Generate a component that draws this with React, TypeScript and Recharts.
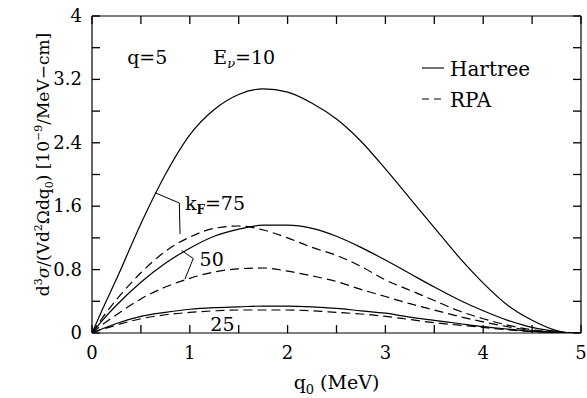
import React from 'react';
import { ComposedChart, Line, XAxis, YAxis, Scatter, ReferenceDot, ReferenceLine, Legend } from 'recharts';

const FONT = '"DejaVu Serif", "Liberation Serif", serif';

// energy transfer q0 (MeV)
const q0 = [0, 0.1, 0.25, 0.5, 0.75, 1.0, 1.25, 1.5, 1.75, 2.0, 2.25, 2.5, 2.75, 3.0, 3.25, 3.5, 3.75, 4.0, 4.25, 4.5, 4.75, 4.9, 5.0];

// Hartree (solid)
const hartree75 = [0, 0.28, 0.68, 1.38, 2.0, 2.5, 2.82, 3.01, 3.08, 3.04, 2.9, 2.7, 2.42, 2.07, 1.7, 1.33, 0.96, 0.63, 0.35, 0.16, 0.03, 0, 0];
const hartree50 = [0, 0.15, 0.35, 0.64, 0.88, 1.07, 1.22, 1.31, 1.36, 1.36, 1.32, 1.22, 1.08, 0.92, 0.75, 0.58, 0.42, 0.28, 0.16, 0.07, 0.02, 0, 0];
const hartree25 = [0, 0.05, 0.12, 0.21, 0.26, 0.3, 0.32, 0.33, 0.34, 0.34, 0.33, 0.31, 0.28, 0.25, 0.2, 0.16, 0.12, 0.08, 0.05, 0.02, 0.005, 0, 0];

// RPA (dashed)
const rpa75 = [0, 0.18, 0.42, 0.76, 1.03, 1.21, 1.32, 1.35, 1.3, 1.2, 1.08, 0.98, 0.84, 0.67, 0.54, 0.41, 0.28, 0.18, 0.1, 0.04, 0.01, 0, 0];
const rpa50 = [0, 0.1, 0.23, 0.43, 0.58, 0.69, 0.77, 0.81, 0.82, 0.78, 0.72, 0.65, 0.55, 0.46, 0.37, 0.29, 0.21, 0.14, 0.08, 0.03, 0.01, 0, 0];
const rpa25 = [0, 0.045, 0.1, 0.18, 0.23, 0.26, 0.28, 0.29, 0.29, 0.29, 0.28, 0.26, 0.24, 0.21, 0.17, 0.13, 0.1, 0.07, 0.04, 0.02, 0.005, 0, 0];

// ticks
const xTicks = [0, 0.5, 1, 1.5, 2, 2.5, 3, 3.5, 4, 4.5, 5];
const xTickLabels = ['0', '', '1', '', '2', '', '3', '', '4', '', '5'];
const yTicks = [0, 0.4, 0.8, 1.2, 1.6, 2.0, 2.4, 2.8, 3.2, 3.6, 4.0];
const yTickLabels = ['0', '', '0.8', '', '1.6', '', '2.4', '', '3.2', '', '4'];
const X_MIN = 0;
const X_MAX = 5;
const Y_MIN = 0;
const Y_MAX = 4;
// inward tick lengths in data units (≈8 px)
const X_TICK_LEN = 0.1; // vertical extent of x ticks (y units)
const Y_TICK_LEN = 0.082; // horizontal extent of y ticks (x units)

// annotation leader lines (data coordinates)
const leader75 = [
  { q0: 0.644, v: 1.77 },
  { q0: 0.893, v: 1.64 },
  { q0: 0.9, v: 1.25 },
];
const leader50 = [
  { q0: 0.917, v: 1.04 },
  { q0: 1.035, v: 0.94 },
  { q0: 0.95, v: 0.68 },
];

const legendNames = ['Hartree', 'RPA'];

const data = q0.map((x, i) => ({
  q0: x,
  h75: hartree75[i],
  h50: hartree50[i],
  h25: hartree25[i],
  r75: rpa75[i],
  r50: rpa50[i],
  r25: rpa25[i],
}));

const series = [
  { key: 'h75', dash: undefined },
  { key: 'h50', dash: undefined },
  { key: 'h25', dash: undefined },
  { key: 'r75', dash: '9 5' },
  { key: 'r50', dash: '9 5' },
  { key: 'r25', dash: '9 5' },
];

const tickSegments = [
  ...xTicks.map((t) => [{ x: t, y: Y_MIN }, { x: t, y: Y_MIN + X_TICK_LEN }]),
  ...xTicks.map((t) => [{ x: t, y: Y_MAX }, { x: t, y: Y_MAX - X_TICK_LEN }]),
  ...yTicks.map((t) => [{ x: X_MIN, y: t }, { x: X_MIN + Y_TICK_LEN, y: t }]),
  ...yTicks.map((t) => [{ x: X_MAX, y: t }, { x: X_MAX - Y_TICK_LEN, y: t }]),
];

const BottomTick = (props: any) => {
  const { x, y, index } = props;
  const label = xTickLabels[index] ?? '';
  return (
    <text x={x} y={y + 26} textAnchor="middle" fontFamily={FONT} fontSize={18} fill="#000">
      {label}
    </text>
  );
};

const LeftTick = (props: any) => {
  const { x, y, index } = props;
  const label = yTickLabels[index] ?? '';
  return (
    <text x={x - 10} y={y + 6} textAnchor="end" fontFamily={FONT} fontSize={18} fill="#000">
      {label}
    </text>
  );
};

const RichText = (props: any) => {
  const { viewBox, size, children } = props;
  if (!viewBox) return null;
  return (
    <text x={viewBox.x} y={viewBox.y} fontFamily={FONT} fontSize={size} fill="#000">
      {children}
    </text>
  );
};

const XLabel = (props: any) => {
  const { viewBox } = props;
  if (!viewBox) return null;
  return (
    <text
      x={viewBox.x + viewBox.width / 2}
      y={viewBox.y + 56}
      textAnchor="middle"
      fontFamily={FONT}
      fontSize={19}
      fill="#000"
    >
      q<tspan dy={5} fontSize={13}>0</tspan>
      <tspan dy={-5}> (MeV)</tspan>
    </text>
  );
};

const YLabel = (props: any) => {
  const { viewBox } = props;
  if (!viewBox) return null;
  const cx = viewBox.x + 49;
  const cy = viewBox.y + viewBox.height / 2 - 10;
  return (
    <text
      x={cx}
      y={cy}
      textAnchor="middle"
      transform={`rotate(-90, ${cx}, ${cy})`}
      fontFamily={FONT}
      fontSize={17}
      fill="#000"
    >
      d<tspan dy={-7} fontSize={11}>3</tspan>
      <tspan dy={7} fontStyle="italic">σ</tspan>/(Vd<tspan dy={-7} fontSize={11}>2</tspan>
      <tspan dy={7}>Ωdq</tspan>
      <tspan dy={4} fontSize={11}>0</tspan>
      <tspan dy={-4}>) [10</tspan>
      <tspan dy={-7} fontSize={11}>−9</tspan>
      <tspan dy={7}>/MeV−cm]</tspan>
    </text>
  );
};

const LegendBox = () => (
  <svg width={130} height={56} style={{ display: 'block', overflow: 'visible' }}>
    {legendNames.map((n, i) => (
      <g key={n}>
        <line
          x1={2}
          x2={24}
          y1={10 + 31 * i}
          y2={10 + 31 * i}
          stroke="#000"
          strokeWidth={1.1}
          strokeDasharray={i ? '7 5' : undefined}
        />
        <text x={30} y={17.5 + 31 * i} fontSize={20} fontFamily={FONT} fill="#000">
          {n}
        </text>
      </g>
    ))}
  </svg>
);

export default function App() {
  return (
    <div style={{ position: 'absolute', left: 0, top: 0, background: '#fff' }}>
      <ComposedChart
        width={587}
        height={398}
        data={data}
        margin={{ top: 15, right: 5, left: 0, bottom: 0 }}
      >
        <XAxis
          dataKey="q0"
          type="number"
          domain={[X_MIN, X_MAX]}
          ticks={xTicks}
          interval={0}
          allowDataOverflow
          height={65}
          tickSize={0}
          tickMargin={0}
          tick={<BottomTick />}
          tickLine={false}
          axisLine={{ stroke: '#000', strokeWidth: 1.2 }}
          label={<XLabel />}
        />
        <XAxis
          xAxisId="top"
          orientation="top"
          dataKey="q0"
          type="number"
          domain={[X_MIN, X_MAX]}
          ticks={xTicks}
          interval={0}
          allowDataOverflow
          height={1}
          tick={false}
          tickLine={false}
          axisLine={{ stroke: '#000', strokeWidth: 1.2 }}
        />
        <YAxis
          type="number"
          domain={[Y_MIN, Y_MAX]}
          ticks={yTicks}
          interval={0}
          allowDataOverflow
          width={92}
          tickSize={0}
          tickMargin={0}
          tick={<LeftTick />}
          tickLine={false}
          axisLine={{ stroke: '#000', strokeWidth: 1.2 }}
          label={<YLabel />}
        />
        <YAxis
          yAxisId="right"
          orientation="right"
          type="number"
          domain={[Y_MIN, Y_MAX]}
          ticks={yTicks}
          interval={0}
          allowDataOverflow
          width={1}
          tick={false}
          tickLine={false}
          axisLine={{ stroke: '#000', strokeWidth: 1.2 }}
        />
        {tickSegments.map((seg, i) => (
          <ReferenceLine
            key={`tick-${i}`}
            segment={seg}
            stroke="#000"
            strokeWidth={1.3}
            ifOverflow="visible"
          />
        ))}
        {series.map((s) => (
          <Line
            key={s.key}
            dataKey={s.key}
            type="monotone"
            stroke="#000"
            strokeWidth={1.2}
            strokeDasharray={s.dash}
            dot={false}
            activeDot={false}
            isAnimationActive={false}
            legendType="none"
          />
        ))}
        <Scatter
          data={leader75}
          dataKey="v"
          line={{ stroke: '#000', strokeWidth: 1 }}
          shape={() => <g />}
          isAnimationActive={false}
          legendType="none"
        />
        <Scatter
          data={leader50}
          dataKey="v"
          line={{ stroke: '#000', strokeWidth: 1 }}
          shape={() => <g />}
          isAnimationActive={false}
          legendType="none"
        />
        <ReferenceDot
          x={0.36}
          y={3.4}
          r={0}
          fill="none"
          stroke="none"
          label={<RichText size={19}>q=5</RichText>}
        />
        <ReferenceDot
          x={1.24}
          y={3.4}
          r={0}
          fill="none"
          stroke="none"
          label={
            <RichText size={19}>
              E<tspan dy={4} fontSize={13} fontStyle="italic">ν</tspan>
              <tspan dy={-4}>=10</tspan>
            </RichText>
          }
        />
        <ReferenceDot
          x={0.95}
          y={1.55}
          r={0}
          fill="none"
          stroke="none"
          label={
            <RichText size={19}>
              k<tspan dy={4} fontSize={12} fontWeight="bold">F</tspan>
              <tspan dy={-4}>=75</tspan>
            </RichText>
          }
        />
        <ReferenceDot
          x={1.1}
          y={0.84}
          r={0}
          fill="none"
          stroke="none"
          label={<RichText size={19}>50</RichText>}
        />
        <ReferenceDot
          x={1.21}
          y={0.03}
          r={0}
          fill="none"
          stroke="none"
          label={<RichText size={19}>25</RichText>}
        />
        <Legend
          layout="vertical"
          align="center"
          verticalAlign="middle"
          content={<LegendBox />}
          wrapperStyle={{ top: 58, left: 420, width: 130, height: 56 }}
        />
      </ComposedChart>
    </div>
  );
}
